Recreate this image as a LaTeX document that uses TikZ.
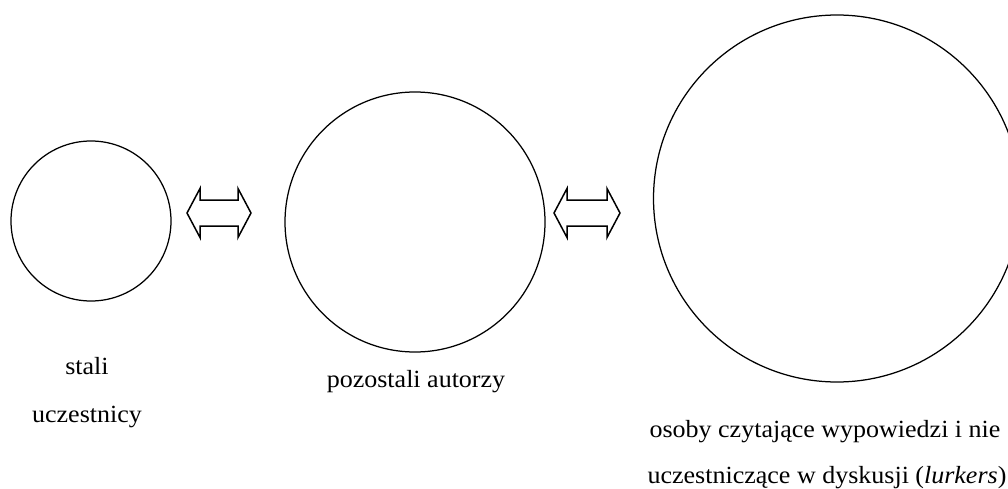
\documentclass[tikz,border=0pt]{standalone}
\usepackage{fontspec}
\setmainfont{Liberation Serif}
\begin{document}
\begin{tikzpicture}[x=1pt,y=-1pt,
  circ/.style={draw, circle, line width=1.25pt, inner sep=0pt},
  arr/.style={draw, line width=1.5pt, line join=miter},
  lbl/.style={anchor=base, inner sep=0pt, font=\fontsize{26}{30}\selectfont}]
\useasboundingbox (0,0) rectangle (1008,489);
\node[circ, minimum size=160pt] (c1) at (91,221) {};
\node[circ, minimum size=260pt] (c2) at (415,222) {};
\node[circ, minimum size=367pt] (c3) at (837,198.5) {};
\coordinate (a1) at (219,213);
\coordinate (a2) at (587,213);
\begin{scope}[shift={(a1)}]
\draw[arr] (-32,0) -- (-19,-24.5) -- (-19,-13) -- (19,-13) -- (19,-24.5) -- (32,0) -- (19,24.5) -- (19,13) -- (-19,13) -- (-19,24.5) -- cycle;
\end{scope}
\begin{scope}[shift={(a2)}]
\draw[arr] (-33,0) -- (-20,-24.5) -- (-20,-13) -- (20,-13) -- (20,-24.5) -- (33,0) -- (20,24.5) -- (20,13) -- (-20,13) -- (-20,24.5) -- cycle;
\end{scope}
\node[lbl] (t1) at (87,374) {\scalebox{1}[0.95]{stali}};
\node[lbl] (t2) at (87,422) {\scalebox{1}[0.95]{uczestnicy}};
\node[lbl] (t3) at (416,387) {\scalebox{1}[0.95]{pozostali autorzy}};
\node[lbl] (t4) at (825,437) {\scalebox{1}[0.95]{osoby czytające wypowiedzi i nie}};
\node[lbl] (t5) at (827,483) {\scalebox{1}[0.95]{uczestniczące w dyskusji (\textit{lurkers})}};
\end{tikzpicture}
\end{document}
